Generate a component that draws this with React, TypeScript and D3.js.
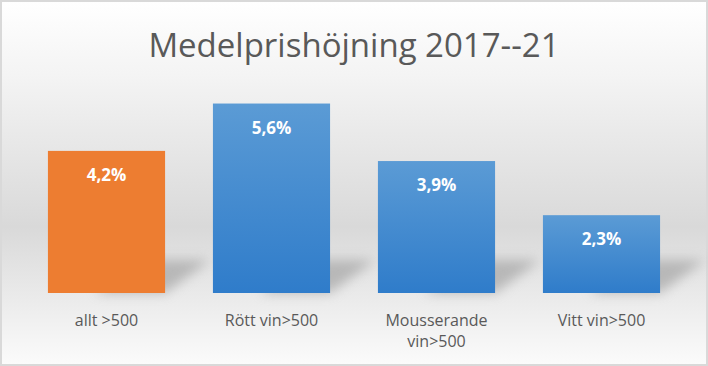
import * as d3 from 'd3';
import React, { useEffect, useRef } from 'react';

// Chart data
const categories = ["allt >500", "Rött vin>500", "Mousserande vin>500", "Vitt vin>500"];
const labelLines = [["allt >500"], ["Rött vin>500"], ["Mousserande", "vin>500"], ["Vitt vin>500"]];
const values = [4.2, 5.6, 3.9, 2.3];
const valueLabels = ["4,2%", "5,6%", "3,9%", "2,3%"];
const title = "Medelprishöjning 2017--21";

const App: React.FC = () => {
  const ref = useRef<SVGSVGElement>(null);

  useEffect(() => {
    if (!ref.current) return;
    d3.select(ref.current).selectAll("*").remove();

    const W = 708;
    const H = 366;
    const margin = { top: 90, right: 24, bottom: 73, left: 24 };
    const width = W - margin.left - margin.right;
    const height = H - margin.top - margin.bottom;

    const svg = d3.select(ref.current)
      .attr("width", W)
      .attr("height", H);

    const defs = svg.append("defs");

    // background gradient
    const bg = defs.append("linearGradient")
      .attr("id", "bg").attr("x1", 0).attr("y1", 0).attr("x2", 0).attr("y2", 1);
    bg.append("stop").attr("offset", "0%").attr("stop-color", "#ffffff");
    bg.append("stop").attr("offset", "20%").attr("stop-color", "#f4f4f4");
    bg.append("stop").attr("offset", "62%").attr("stop-color", "#d9d9d9");
    bg.append("stop").attr("offset", "100%").attr("stop-color", "#fbfbfb");

    // blue bar gradient
    const blue = defs.append("linearGradient")
      .attr("id", "blue").attr("x1", 0).attr("y1", 0).attr("x2", 0).attr("y2", 1);
    blue.append("stop").attr("offset", "0%").attr("stop-color", "#5b9bd5");
    blue.append("stop").attr("offset", "100%").attr("stop-color", "#2f7cca");

    const blur = defs.append("filter").attr("id", "blur")
      .attr("x", "-50%").attr("y", "-50%").attr("width", "200%").attr("height", "200%");
    blur.append("feGaussianBlur").attr("stdDeviation", 6);

    svg.append("rect")
      .attr("x", 1).attr("y", 1)
      .attr("width", W - 2).attr("height", H - 2)
      .attr("fill", "url(#bg)")
      .attr("stroke", "#d9d9d9")
      .attr("stroke-width", 2);

    // title
    svg.append("text")
      .attr("x", W / 2)
      .attr("y", 57)
      .attr("text-anchor", "middle")
      .style("font-family", "'Open Sans', sans-serif")
      .style("font-size", "33px")
      .style("fill", "#595959")
      .text(title);

    const g = svg.append("g")
      .attr("transform", `translate(${margin.left},${margin.top})`);

    const x = d3.scaleBand()
      .domain(categories)
      .range([0, width])
      .paddingInner(0.29)
      .paddingOuter(0.145);

    const y = d3.scaleLinear()
      .domain([0, 6])
      .range([height, 0]);

    const data = categories.map((c, i) => ({ c, v: values[i], label: valueLabels[i], lines: labelLines[i], i }));

    // soft shadows
    g.selectAll(".shadow")
      .data(data)
      .enter().append("path")
      .attr("class", "shadow")
      .attr("d", d => {
        const x0 = (x(d.c) as number) + x.bandwidth() * 0.4;
        const x1 = (x(d.c) as number) + x.bandwidth();
        const b = height;
        const h = Math.min(y(0) - y(d.v), 60) * 0.55;
        return `M${x0},${b} L${x1},${b} L${x1 + 45},${b - h} L${x0 + 45},${b - h} Z`;
      })
      .attr("fill", "#9a9a9a")
      .attr("opacity", 0.6)
      .attr("filter", "url(#blur)");

    // bars
    g.selectAll(".bar")
      .data(data)
      .enter().append("rect")
      .attr("class", "bar")
      .attr("x", d => x(d.c) as number)
      .attr("y", d => y(d.v))
      .attr("width", x.bandwidth())
      .attr("height", d => height - y(d.v))
      .attr("fill", d => d.i === 0 ? "#ed7d31" : "url(#blue)");

    // value labels
    g.selectAll(".val")
      .data(data)
      .enter().append("text")
      .attr("class", "val")
      .attr("x", d => (x(d.c) as number) + x.bandwidth() / 2)
      .attr("y", d => y(d.v) + 30)
      .attr("text-anchor", "middle")
      .style("font-family", "'Open Sans', sans-serif")
      .style("font-weight", "bold")
      .style("font-size", "17px")
      .style("fill", "#ffffff")
      .text(d => d.label);

    // category labels
    const cat = g.selectAll(".cat")
      .data(data)
      .enter().append("text")
      .attr("class", "cat")
      .attr("text-anchor", "middle")
      .style("font-family", "'Open Sans', sans-serif")
      .style("font-size", "16px")
      .style("fill", "#595959");

    cat.selectAll("tspan")
      .data(d => d.lines.map((l, k) => ({ l, k, cx: (x(d.c) as number) + x.bandwidth() / 2 })))
      .enter().append("tspan")
      .attr("x", t => t.cx)
      .attr("y", t => height + 33 + t.k * 21)
      .text(t => t.l);
  }, []);

  return <svg ref={ref} style={{ position: "absolute", left: 0, top: 0 }}></svg>;
};

export default App;
